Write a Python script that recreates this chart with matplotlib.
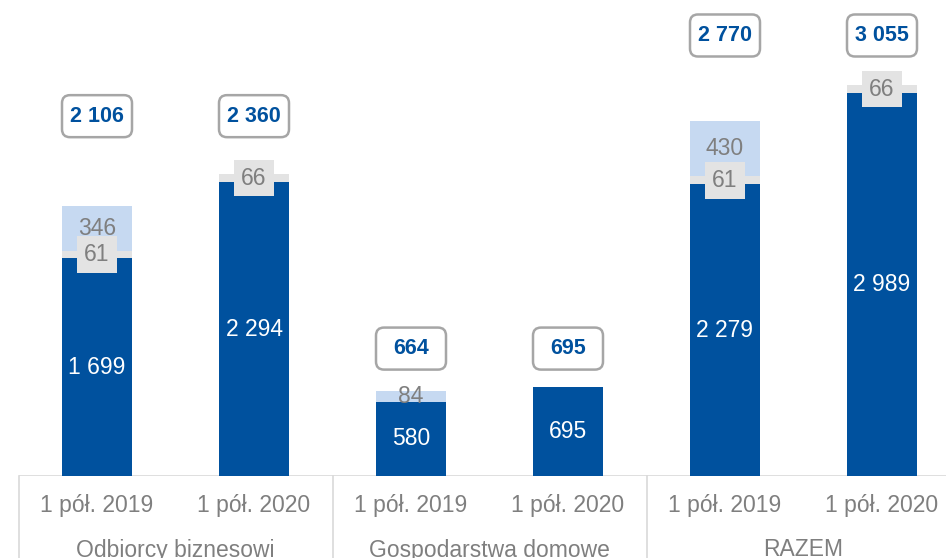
import matplotlib
matplotlib.use('Agg')
import matplotlib.pyplot as plt
import matplotlib.transforms as mtransforms
from matplotlib.patches import FancyBboxPatch

plt.rcParams['font.family'] = ['Liberation Sans', 'DejaVu Sans']

groups = ['Odbiorcy biznesowi', 'Gospodarstwa domowe', 'RAZEM']
periods = ['1 pół. 2019', '1 pół. 2020'] * 3
base = [1699, 2294, 580, 695, 2279, 2989]
grey_part = [61, 66, 0, 0, 61, 66]
light_part = [346, 0, 84, 0, 430, 0]
totals = [2106, 2360, 664, 695, 2770, 3055]

DARK = '#00519e'
LIGHT = '#c6d9f1'
GREY = '#e3e3e3'
TXT_GREY = '#7f7f7f'


def fmt(v):
    return '{:,}'.format(v).replace(',', ' ')


fig = plt.figure(figsize=(9.46, 5.58), dpi=100)
# axes stretches past the right edge, like the cropped original
ax = fig.add_axes([18.5 / 946, 82 / 558, 942 / 946, 461 / 558])
ax.set_xlim(-0.5, 5.5)
ax.set_ylim(0, 3600)

x = list(range(len(base)))
w = 0.446
bottom2 = [b + g for b, g in zip(base, grey_part)]
ax.bar(x, base, w, color=DARK, zorder=2)
ax.bar(x, grey_part, w, bottom=base, color=GREY, zorder=2)
ax.bar(x, light_part, w, bottom=bottom2, color=LIGHT, zorder=2)

fs = 16.5
for i in x:
    ax.text(i, base[i] / 2, fmt(base[i]), color='white', fontsize=fs,
            ha='center', va='center', zorder=4)
    if light_part[i]:
        ax.text(i, bottom2[i] + light_part[i] / 2, fmt(light_part[i]),
                color=TXT_GREY, fontsize=fs, ha='center', va='center', zorder=4)
    if grey_part[i]:
        ax.text(i, base[i] + grey_part[i] / 2, fmt(grey_part[i]),
                color=TXT_GREY, fontsize=fs, ha='center', va='center', zorder=5,
                bbox=dict(boxstyle='square,pad=0.3', fc=GREY, ec='none'))

# total boxes, one height per group
label_gap = [450, 300, 385]
px_x = 157.0   # pixels per x unit
px_y = 0.128   # pixels per y unit
bw, bh, r = 70 / px_x, 42 / px_y, 8 / px_x
for i in x:
    g = i // 2
    ytop = max(bottom2[2 * g] + light_part[2 * g],
               bottom2[2 * g + 1] + light_part[2 * g + 1]) + label_gap[g]
    box = FancyBboxPatch((i - bw / 2, ytop - bh / 2), bw, bh,
                         boxstyle='round,pad=0,rounding_size=%f' % r,
                         mutation_aspect=(1 / px_y) / (1 / px_x),
                         fc='white', ec='#a6a6a6', lw=1.8, zorder=6,
                         clip_on=False)
    ax.add_patch(box)
    ax.text(i, ytop, fmt(totals[i]), color=DARK, fontsize=15.5,
            fontweight='bold', ha='center', va='center', zorder=7)

# axes frame and category lines
for s in ax.spines.values():
    s.set_visible(False)
ax.set_yticks([])
ax.set_xticks(x)
ax.set_xticklabels(periods, fontsize=fs, color=TXT_GREY)
ax.tick_params(axis='x', length=0, pad=13)
ax.axhline(0, color='#d9d9d9', lw=1.2, zorder=1)

tr = mtransforms.blended_transform_factory(ax.transData, fig.transFigure)
for xs in [-0.5, 1.5, 3.5]:
    ax.plot([xs, xs], [0, 82 / 558], color='#d9d9d9', lw=1.2,
            transform=tr, clip_on=False)
for g, name in enumerate(groups):
    ax.text(2 * g + 0.5, 8 / 558, name, color=TXT_GREY, fontsize=fs,
            ha='center', va='center', transform=tr)

fig.savefig('out.png', dpi=100)
